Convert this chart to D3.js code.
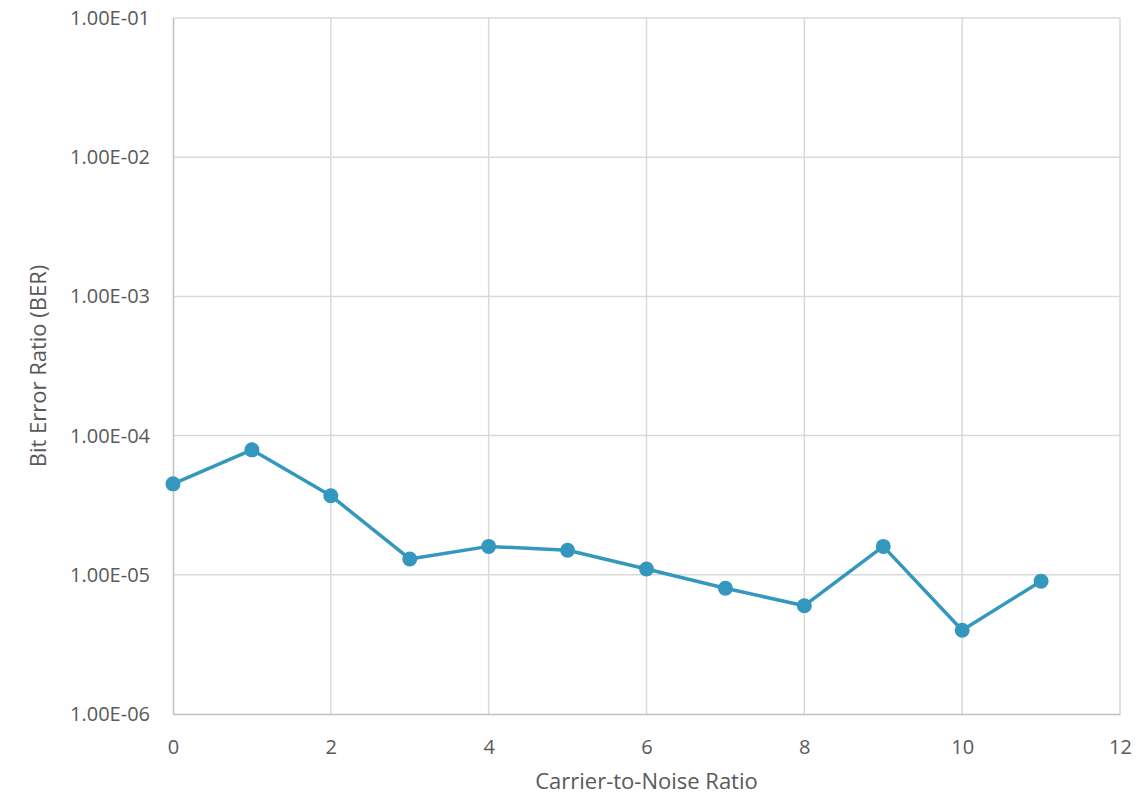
<!DOCTYPE html>
<html>
<head>
<meta charset="utf-8">
<script src="https://cdn.jsdelivr.net/npm/d3@7"></script>
<style>
  body { margin: 0; background: #fff; }
  text { font-family: "Open Sans", sans-serif; fill: #595959; }
</style>
</head>
<body>
<svg id="svg" width="1140" height="798"></svg>
<script>
// carrier-to-noise ratio and measured BER
const cnr = [0, 1, 2, 3, 4, 5, 6, 7, 8, 9, 10, 11];
const ber = [4.5e-5, 7.9e-5, 3.7e-5, 1.3e-5, 1.6e-5, 1.5e-5, 1.1e-5, 8e-6, 6e-6, 1.6e-5, 4e-6, 9e-6];
const xTicks = [0, 2, 4, 6, 8, 10, 12];
const yTicks = [1e-6, 1e-5, 1e-4, 1e-3, 1e-2, 1e-1];

var width = 1140;
var height = 798;
var margin = {top: 18, right: 20, bottom: 84, left: 173};

var svg = d3.select("#svg");

var x = d3.scaleLinear()
  .domain([0, 12])
  .range([margin.left, width - margin.right]);

var y = d3.scaleLog()
  .domain([1e-6, 1e-1])
  .range([height - margin.bottom, margin.top]);

// gridlines
svg.append("g")
  .selectAll("line")
  .data(xTicks.slice(1))
  .join("line")
    .attr("x1", d => x(d)).attr("x2", d => x(d))
    .attr("y1", y(1e-1)).attr("y2", y(1e-6))
    .attr("stroke", "#d9d9d9").attr("stroke-width", 1.5);

svg.append("g")
  .selectAll("line")
  .data(yTicks.slice(1))
  .join("line")
    .attr("x1", x(0)).attr("x2", x(12))
    .attr("y1", d => y(d)).attr("y2", d => y(d))
    .attr("stroke", "#d9d9d9").attr("stroke-width", 1.5);

// axes
var xAxis = svg.append("g")
  .attr("transform", "translate(0," + y(1e-6) + ")")
  .call(d3.axisBottom(x).tickValues(xTicks).tickSize(0).tickPadding(26));
xAxis.select(".domain").attr("stroke", "#bfbfbf").attr("stroke-width", 1.5);

var yAxis = svg.append("g")
  .attr("transform", "translate(" + x(0) + ",0)")
  .call(d3.axisLeft(y).tickValues(yTicks).tickSize(0).tickPadding(23)
    .tickFormat(d => {
      var e = Math.round(Math.log10(d));
      return "1.00E-" + String(-e).padStart(2, "0");
    }));
yAxis.select(".domain").attr("stroke", "#bfbfbf").attr("stroke-width", 1.5);

svg.selectAll(".tick text")
  .attr("font-family", "Open Sans, sans-serif")
  .attr("font-size", 20)
  .attr("fill", "#595959");

// line + markers
var pts = cnr.map((c, i) => [c, ber[i]]);

svg.append("path")
  .datum(pts)
  .attr("fill", "none")
  .attr("stroke", "#3497bd")
  .attr("stroke-width", 3.5)
  .attr("stroke-linejoin", "round")
  .attr("d", d3.line().x(d => x(d[0])).y(d => y(d[1])));

svg.append("g")
  .attr("fill", "#3497bd")
  .selectAll("circle")
  .data(pts)
  .join("circle")
    .attr("cx", d => x(d[0]))
    .attr("cy", d => y(d[1]))
    .attr("r", 7.5);

// axis titles
svg.append("text")
  .attr("x", (x(0) + x(12)) / 2)
  .attr("y", 789)
  .attr("text-anchor", "middle")
  .style("font-size", "22px")
  .text("Carrier-to-Noise Ratio");

svg.append("text")
  .attr("transform", "translate(46," + ((y(1e-1) + y(1e-6)) / 2) + ") rotate(-90)")
  .attr("text-anchor", "middle")
  .style("font-size", "22px")
  .text("Bit Error Ratio (BER)");
</script>
</body>
</html>
